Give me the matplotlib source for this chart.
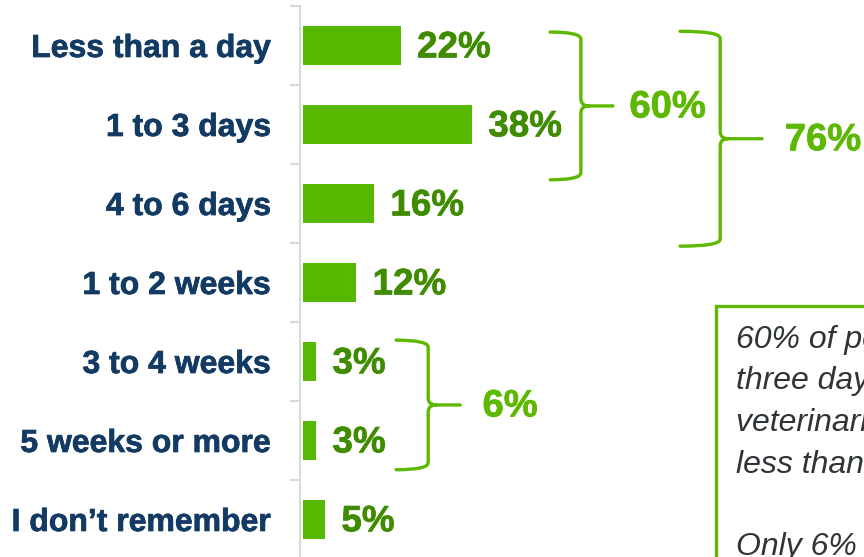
import matplotlib.pyplot as plt
import matplotlib.patheffects as pe
from matplotlib.path import Path
from matplotlib.patches import PathPatch, Rectangle

plt.rcParams['font.family'] = ['Liberation Sans', 'DejaVu Sans']

categories = ['Less than a day', '1 to 3 days', '4 to 6 days', '1 to 2 weeks',
              '3 to 4 weeks', '5 weeks or more', 'I don\u2019t remember']
values = [22, 38, 16, 12, 3, 3, 5]
value_labels = ['22%', '38%', '16%', '12%', '3%', '3%', '5%']

# brace groups: (top, bottom, label) in category units
groups = [(-0.17, 1.70, '60%'), (-0.18, 2.54, '76%'), (3.73, 5.37, '6%')]
# x positions of each brace: arm start, vertical, tip, label (data units)
brace_x = [(56.2, 63.1, 70.3, 74.0), (85.4, 94.4, 103.8, 108.9),
           (21.6, 28.8, 36.0, 41.0)]

note_lines = ['60% of pet owners waited', 'three days or less to see a',
              'veterinarian; 22% waited', 'less than a day.', '',
              'Only 6% waited three weeks']

BAR = '#56B800'
VAL = '#3F8C00'
BRACE = '#5CB800'
NAVY = '#123A63'


def heavy(color):
    # thicken the bold glyphs a little, like the original rendering
    return [pe.withStroke(linewidth=0.5, foreground=color)]


W, H = 864, 557
fig = plt.figure(figsize=(W / 100, H / 100), dpi=100)
ax = fig.add_axes([300 / W, -2 / H, 1 - 300 / W, (H + 2 - 6) / H])

y = list(range(len(categories)))
ax.barh(y, values, height=0.5, color=BAR, left=0.6)
ax.set_ylim(len(categories) - 0.5, -0.5)
ax.set_xlim(0, 126.7)

for yi, v, lab in zip(y, values, value_labels):
    ax.text(v + 4.3, yi + 0.03, lab, color=VAL, fontsize=26.5, fontweight='bold',
            va='center', ha='left', path_effects=heavy(VAL))

ax.set_yticks(y)
ax.set_yticklabels(categories, fontsize=23, fontweight='bold', color=NAVY)
for t in ax.get_yticklabels():
    t.set_path_effects(heavy(NAVY))
ax.set_yticks([i - 0.5 for i in range(len(categories) + 1)], minor=True)
ax.tick_params(axis='y', which='major', length=0, pad=21)
ax.tick_params(axis='y', which='minor', length=7, width=1.5, color='#D9D9D9')
ax.set_xticks([])
for s in ['top', 'right', 'bottom']:
    ax.spines[s].set_visible(False)
ax.spines['left'].set_color('#D9D9D9')
ax.spines['left'].set_linewidth(1.5)

for (top, bot, lab), (x0, xv, xt, xl) in zip(groups, brace_x):
    mid = (top + bot) / 2
    rx, ry = 1.8, 0.09
    verts = [(x0, top), (xv, top), (xv, top + ry),
             (xv, mid - ry), (xv, mid), (xv + rx, mid),
             (xt, mid),
             (xv + rx, mid), (xv, mid), (xv, mid + ry),
             (xv, bot - ry), (xv, bot), (x0, bot)]
    codes = [Path.MOVETO, Path.CURVE3, Path.CURVE3,
             Path.LINETO, Path.CURVE3, Path.CURVE3,
             Path.LINETO,
             Path.MOVETO, Path.CURVE3, Path.CURVE3,
             Path.LINETO, Path.CURVE3, Path.CURVE3]
    ax.add_patch(PathPatch(Path(verts, codes), fill=False, edgecolor=BRACE,
                           lw=2.4, capstyle='round', clip_on=False))
    ax.text(xl, mid + 0.02, lab, color=BRACE, fontsize=27.5,
            fontweight='bold', va='center', ha='left', clip_on=False,
            path_effects=heavy(BRACE))

# note box on the right
fig.patches.append(Rectangle((716 / W, -0.1), 0.5, 1.1 - 306 / H,
                             transform=fig.transFigure, fill=False,
                             edgecolor=BRACE, lw=2.4))
for i, line in enumerate(note_lines):
    base = 348 + i * 41.5
    fig.text(736 / W, 1 - base / H, line, fontsize=23, style='italic',
             color='#2F3438', ha='left', va='baseline')

fig.savefig('out.png', dpi=100)
